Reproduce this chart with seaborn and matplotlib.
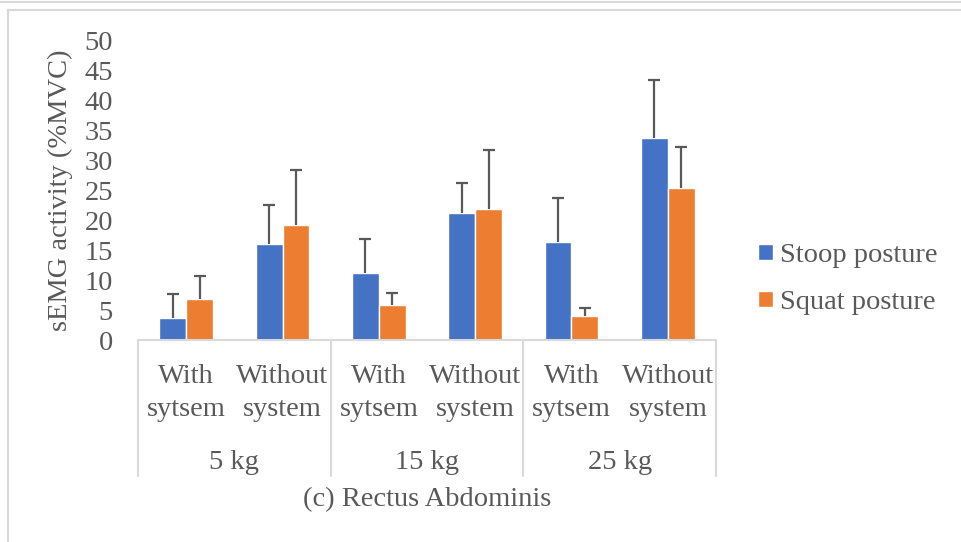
import matplotlib
matplotlib.use("Agg")
import matplotlib.pyplot as plt
import matplotlib.transforms as mtransforms
from matplotlib.lines import Line2D
import seaborn as sns
import pandas as pd
import numpy as np

# ---- data ----
groups = ["5 kg", "15 kg", "25 kg"]
conditions = ["With\nsytsem", "Without\nsystem"]
series = ["Stoop posture", "Squat posture"]
stoop_mean = [3.6, 16.0, 11.1, 21.1, 16.3, 33.6]
stoop_sd = [4.1, 6.5, 5.7, 5.0, 7.4, 9.7]
squat_mean = [6.9, 19.2, 5.9, 21.8, 4.05, 25.3]
squat_sd = [3.7, 9.1, 2.0, 9.9, 1.25, 6.8]
y_ticks = [0, 5, 10, 15, 20, 25, 30, 35, 40, 45, 50]
y_label = "sEMG activity (%MVC)"
title = "(c) Rectus Abdominis"

cat_keys = [f"{g}|{c}" for g in groups for c in conditions]
rows = []
for k, m, s in zip(cat_keys, stoop_mean, stoop_sd):
    rows.append({"cat": k, "series": series[0], "value": m, "sd": s})
for k, m, s in zip(cat_keys, squat_mean, squat_sd):
    rows.append({"cat": k, "series": series[1], "value": m, "sd": s})
df = pd.DataFrame(rows)

sns.set_theme(style="white")
plt.rcParams["font.family"] = ["Liberation Serif", "DejaVu Serif"]
TXT = "#595959"
GRID = "#d9d9d9"
colors = ["#4472C4", "#ED7D31"]
FS = 20.5

W, H = 962, 542
fig = plt.figure(figsize=(W / 100, H / 100), dpi=100)
ax_left, ax_right, ax_top, ax_bot = 138, 716, 40, 340
ax = fig.add_axes([ax_left / W, 1 - ax_bot / H, (ax_right - ax_left) / W, (ax_bot - ax_top) / H])

sns.barplot(data=df, x="cat", y="value", hue="series", order=cat_keys,
            hue_order=series, palette=colors, width=0.56, errorbar=None,
            saturation=1, ax=ax, legend=True)

# error bars (plus only) placed on the bars drawn by seaborn
for cont, sds in zip(ax.containers, [stoop_sd, squat_sd]):
    xs = [p.get_x() + p.get_width() / 2 for p in cont.patches]
    hs = [p.get_height() for p in cont.patches]
    eb = ax.errorbar(xs, hs, yerr=[np.zeros(len(sds)), sds], fmt="none",
                     ecolor=TXT, elinewidth=1.6, capsize=4.3, capthick=1.6, zorder=3)
    eb[1][0].set_visible(False)  # hide the lower cap

ax.set_ylim(0, 50)
ax.set_xlim(-0.5, len(cat_keys) - 0.5)
ax.set_yticks(y_ticks)
ax.set_yticklabels([str(t) for t in y_ticks], fontsize=FS, color=TXT)
ax.tick_params(axis="y", length=0, pad=18)
ax.set_xticks([])
ax.set_xlabel("")
ax.set_ylabel(y_label, fontsize=FS, color=TXT)
ax.yaxis.set_label_coords(-0.112, 0.5)
for s in ax.spines.values():
    s.set_visible(False)
ax.axhline(0, color=GRID, lw=1.5, zorder=1, clip_on=False)

# multi-level category axis
trans = mtransforms.blended_transform_factory(ax.transData, ax.transAxes)
for b in [-0.5, 1.5, 3.5, 5.5]:
    ax.add_line(Line2D([b, b], [0, -0.453], transform=trans, color=GRID,
                       lw=1.5, clip_on=False))
for i, k in enumerate(cat_keys):
    ax.text(i, -0.177, k.split("|")[1], transform=trans, ha="center", va="center",
            fontsize=FS, color=TXT, linespacing=1.45)
for gi, g in enumerate(groups):
    ax.text(gi * 2 + 0.5, -0.407, g, transform=trans, ha="center", va="center",
            fontsize=FS, color=TXT)
ax.text(0.5, -0.533, title, transform=ax.transAxes, ha="center", va="center",
        fontsize=FS, color=TXT)

# legend
handles, labels = ax.get_legend_handles_labels()
ax.legend(handles, labels, loc="center left",
          bbox_to_anchor=(758 / W, 1 - 279 / H), bbox_transform=fig.transFigure,
          frameon=False, fontsize=FS, labelcolor=TXT, handlelength=0.52,
          handleheight=0.52, handletextpad=0.25, labelspacing=0.78, borderpad=0,
          borderaxespad=0)

# chart frame lines
fig.add_artist(Line2D([0, 1], [1 - 2 / H, 1 - 2 / H], transform=fig.transFigure, color=GRID, lw=1.5))
fig.add_artist(Line2D([8 / W, 1], [1 - 10 / H, 1 - 10 / H], transform=fig.transFigure, color=GRID, lw=1.5))
fig.add_artist(Line2D([8 / W, 8 / W], [0, 1 - 10 / H], transform=fig.transFigure, color=GRID, lw=1.5))

fig.savefig("out.png", dpi=100, facecolor="white")
